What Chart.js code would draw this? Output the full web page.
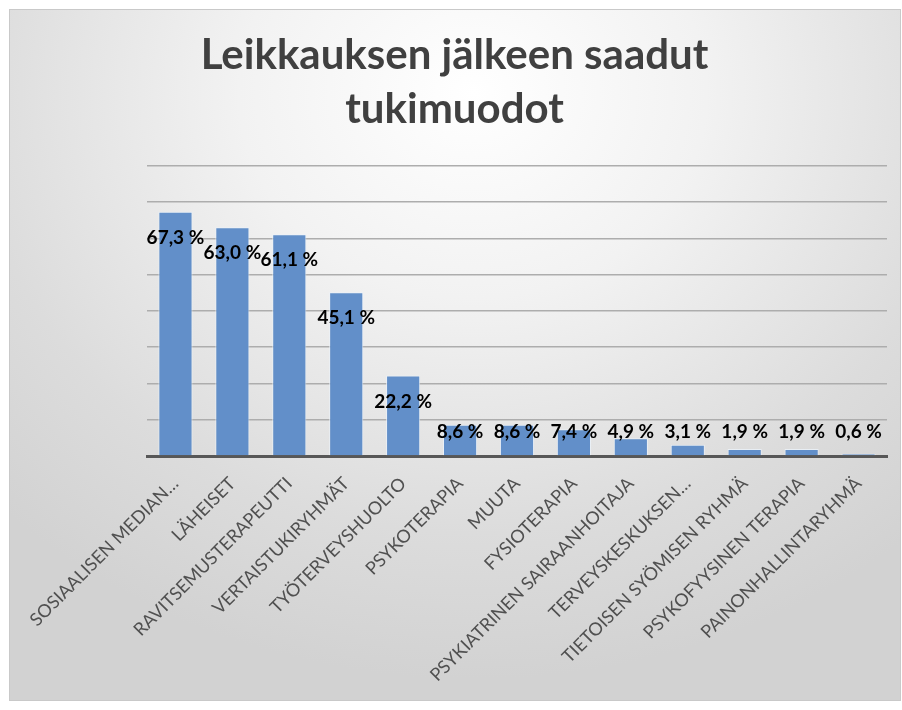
<!DOCTYPE html>
<html>
<head>
<meta charset="utf-8">
<script src="https://cdn.jsdelivr.net/npm/chart.js@4.4.1/dist/chart.umd.min.js"></script>
<style>
  html, body { margin: 0; padding: 0; background: #fff; }
  #chart {
    position: absolute; left: 10px; top: 10px;
    box-shadow: 0 0 0 1px #c9c9c9;
    background: radial-gradient(ellipse 75% 85% at 52% 12%, #ffffff 0%, #f2f2f2 35%, #dcdcdc 75%, #d2d2d2 100%);
  }
</style>
</head>
<body>
<canvas id="chart" width="890" height="690"></canvas>
<script>
const titleLines = ['Leikkauksen jälkeen saadut', 'tukimuodot'];
const categories = [
    'SOSIAALISEN MEDIAN…', 'LÄHEISET', 'RAVITSEMUSTERAPEUTTI', 'VERTAISTUKIRYHMÄT',
    'TYÖTERVEYSHUOLTO', 'PSYKOTERAPIA', 'MUUTA', 'FYSIOTERAPIA',
    'PSYKIATRINEN SAIRAANHOITAJA', 'TERVEYSKESKUKSEN…', 'TIETOISEN SYÖMISEN RYHMÄ',
    'PSYKOFYYSINEN TERAPIA', 'PAINONHALLINTARYHMÄ'
];
const values = [67.3, 63.0, 61.1, 45.1, 22.2, 8.6, 8.6, 7.4, 4.9, 3.1, 1.9, 1.9, 0.6];
const yMax = 80;
const yStep = 10;

// bold value labels, sitting a bit below the bar top but never lower than just above the axis
const valueLabels = {
    id: 'valueLabels',
    afterDatasetsDraw(chart) {
        const ctx = chart.ctx;
        const meta = chart.getDatasetMeta(0);
        ctx.save();
        ctx.font = 'bold 19px Lato';
        ctx.fillStyle = '#000';
        ctx.textAlign = 'center';
        ctx.textBaseline = 'middle';
        meta.data.forEach((bar, i) => {
            const txt = values[i].toFixed(1).replace('.', ',') + ' %';
            const y = Math.min(bar.y + 26, bar.base - 23);
            ctx.fillText(txt, bar.x, y);
        });
        ctx.restore();
    }
};

new Chart(document.getElementById('chart').getContext('2d'), {
    type: 'bar',
    data: {
        labels: categories,
        datasets: [{
            data: values,
            backgroundColor: '#628fc9',
            borderColor: 'rgba(235,242,250,0.8)',
            borderWidth: 1,
            categoryPercentage: 0.6,
            barPercentage: 1
        }]
    },
    options: {
        responsive: false,
        animation: false,
        layout: { padding: { left: 12, right: 13, top: 0, bottom: 0 } },
        plugins: {
            legend: { display: false },
            tooltip: { enabled: false },
            title: {
                display: true,
                text: titleLines,
                color: '#404040',
                font: { family: 'Lato', size: 42, weight: 'bold', lineHeight: 1.27 },
                padding: { top: 19, bottom: 30 }
            }
        },
        scales: {
            x: {
                grid: { display: false },
                border: { display: true, color: '#575757', width: 3 },
                ticks: {
                    autoSkip: false,
                    minRotation: 45,
                    maxRotation: 45,
                    padding: 9,
                    color: '#505050',
                    font: { family: 'Lato', size: 18 }
                },
                afterFit(scale) { scale.height = 244; }
            },
            y: {
                min: 0,
                max: yMax,
                ticks: { display: false, stepSize: yStep },
                border: { display: false },
                grid: { color: '#adadad', lineWidth: 1.5, drawTicks: false },
                afterFit(scale) { scale.width = 125; }
            }
        }
    },
    plugins: [valueLabels]
});
</script>
</body>
</html>
